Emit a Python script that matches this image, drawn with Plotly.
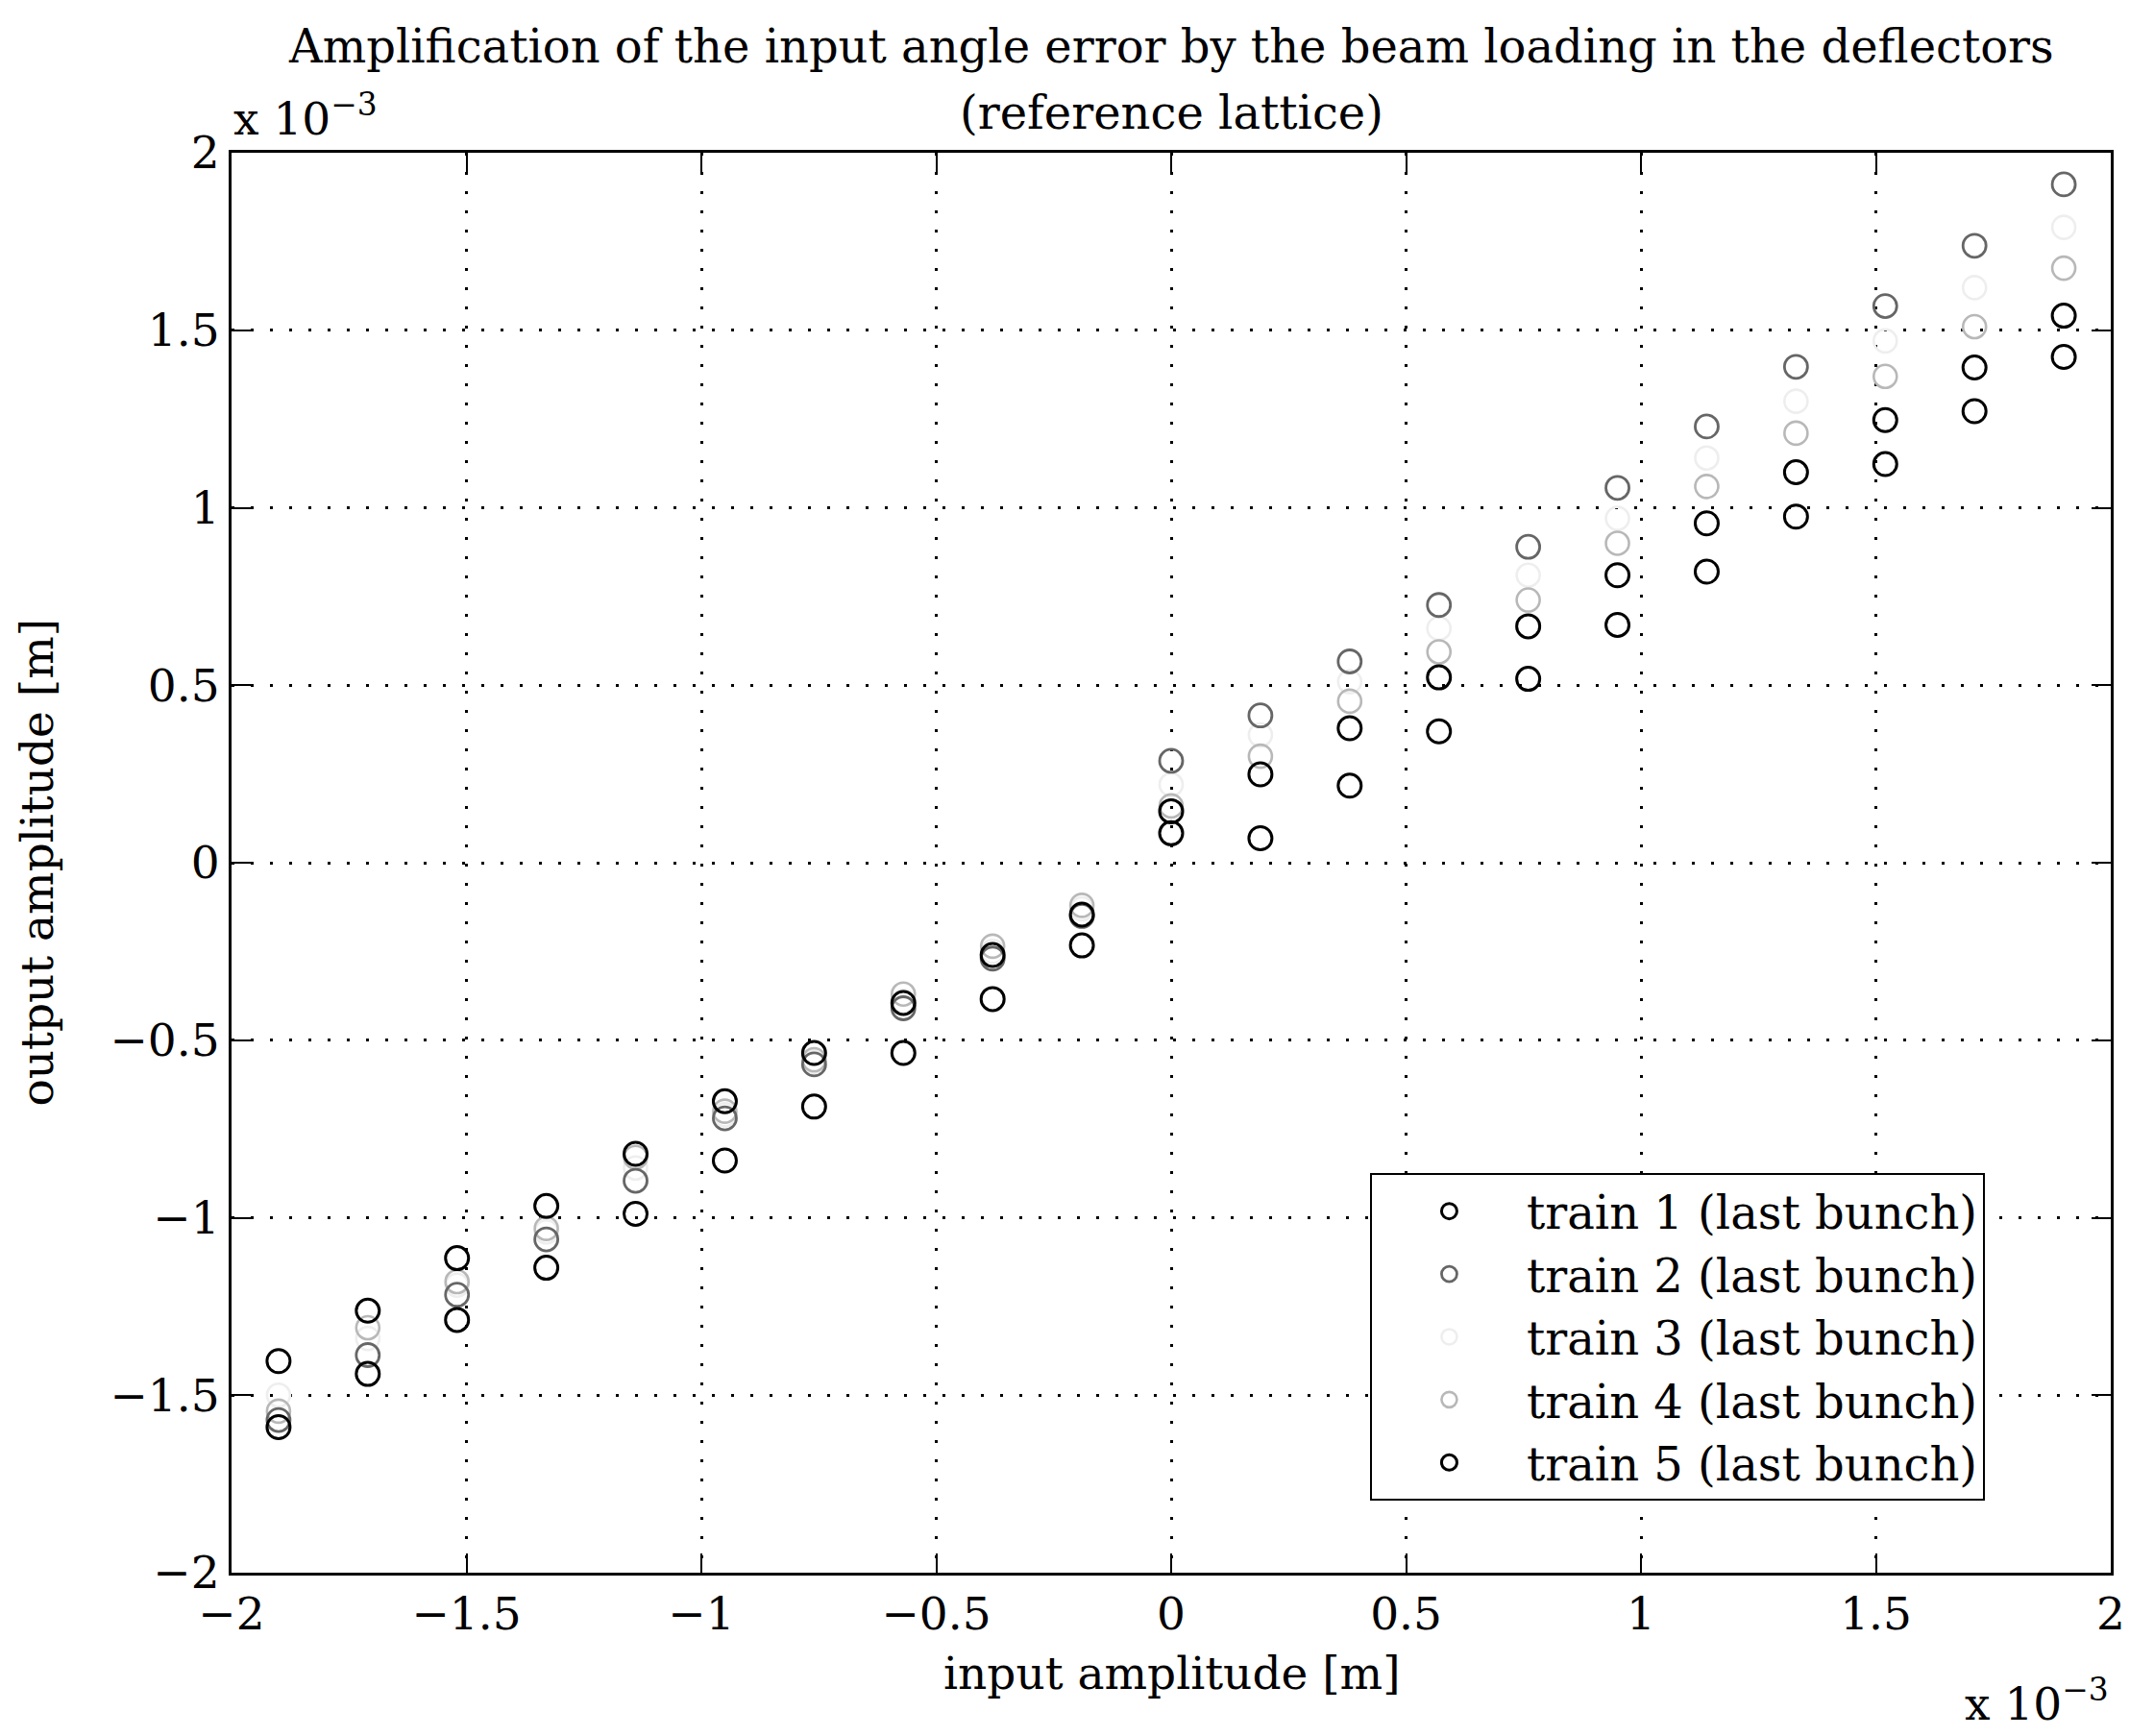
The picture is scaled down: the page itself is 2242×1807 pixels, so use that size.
import plotly.graph_objects as go

# ---- data (units of 1e-3 m) ----
input_amp = [-1.90, -1.71, -1.52, -1.33, -1.14, -0.95, -0.76, -0.57, -0.38, -0.19, 0.00,
             0.19, 0.38, 0.57, 0.76, 0.95, 1.14, 1.33, 1.52, 1.71, 1.90]

train1 = [-1.590, -1.440, -1.288, -1.141, -0.989, -0.839, -0.687, -0.536, -0.384, -0.233, 0.083,
          0.069, 0.217, 0.370, 0.518, 0.670, 0.820, 0.975, 1.123, 1.272, 1.425]
train2 = [-1.570, -1.387, -1.217, -1.061, -0.896, -0.720, -0.568, -0.410, -0.270, -0.150, 0.287,
          0.415, 0.567, 0.726, 0.890, 1.056, 1.229, 1.397, 1.568, 1.738, 1.911]
train3 = [-1.500, -1.340, -1.190, -1.040, -0.860, -0.710, -0.560, -0.390, -0.250, -0.130, 0.220,
          0.360, 0.510, 0.660, 0.810, 0.970, 1.140, 1.300, 1.470, 1.620, 1.790]
train4 = [-1.545, -1.310, -1.180, -1.030, -0.830, -0.700, -0.555, -0.370, -0.235, -0.120, 0.160,
          0.300, 0.455, 0.594, 0.740, 0.900, 1.060, 1.210, 1.370, 1.510, 1.675]
train5 = [-1.404, -1.262, -1.114, -0.967, -0.820, -0.672, -0.536, -0.395, -0.260, -0.146, 0.145,
          0.249, 0.379, 0.522, 0.666, 0.810, 0.956, 1.100, 1.247, 1.395, 1.541]

series_names = ["train 1 (last bunch)", "train 2 (last bunch)", "train 3 (last bunch)",
                "train 4 (last bunch)", "train 5 (last bunch)"]

tick_vals = [-2, -1.5, -1, -0.5, 0, 0.5, 1, 1.5, 2]
tick_text = ["\u22122", "\u22121.5", "\u22121", "\u22120.5", "0", "0.5", "1", "1.5", "2"]

title_line1 = "Amplification of the input angle error by the beam loading in the deflectors"
title_line2 = "(reference lattice)"
x_label = "input amplitude [m]"
y_label = "output amplitude [m]"

FONT = "DejaVu Serif"
FS = 47
FS_TITLE = 48

# draw order: faint ones first, solid black on top
styles = [
    (train3, series_names[2], "#eeeeee", 3, 2.6),
    (train4, series_names[3], "#b8b8b8", 4, 2.6),
    (train2, series_names[1], "#666666", 2, 2.8),
    (train1, series_names[0], "#000000", 1, 3.0),
    (train5, series_names[4], "#000000", 5, 3.0),
]

fig = go.Figure()
for ys, name, col, rank, lw in styles:
    fig.add_trace(go.Scatter(
        x=input_amp, y=ys, name=name, mode="markers", legendrank=rank,
        marker=dict(symbol="circle-open", size=24, color=col, line=dict(color=col, width=lw)),
    ))

axis_common = dict(
    tickvals=tick_vals, ticktext=tick_text, range=[-2, 2],
    showline=True, linecolor="black", linewidth=3, mirror="ticks",
    ticks="inside", ticklen=20, tickwidth=2, tickcolor="black",
    showgrid=True, gridcolor="black", gridwidth=2.5, griddash="3px,17px",
    zeroline=False, tickfont=dict(family=FONT, size=FS, color="black"),
)

fig.update_layout(
    width=2242, height=1807,
    paper_bgcolor="white", plot_bgcolor="white",
    margin=dict(l=233, r=53, t=151, b=178),
    xaxis=dict(**axis_common),
    yaxis=dict(**axis_common),
    font=dict(family=FONT, size=FS, color="black"),
    showlegend=True,
    legend=dict(
        x=0.6058, y=0.2815, xanchor="left", yanchor="top",
        bgcolor="white", bordercolor="black", borderwidth=2,
        font=dict(family=FONT, size=48, color="black"),
        itemwidth=151, tracegroupgap=0,
    ),
    annotations=[
        dict(text=title_line1, x=0.5, y=1.075, xref="paper", yref="paper",
             xanchor="center", yanchor="middle", showarrow=False,
             font=dict(family=FONT, size=FS_TITLE, color="black")),
        dict(text=title_line2, x=0.5, y=1.0285, xref="paper", yref="paper",
             xanchor="center", yanchor="middle", showarrow=False,
             font=dict(family=FONT, size=FS_TITLE, color="black")),
        dict(text="x 10<sup>\u22123</sup>", x=0.0, y=1.004, xref="paper", yref="paper",
             xanchor="left", yanchor="bottom", showarrow=False,
             font=dict(family=FONT, size=FS, color="black")),
        dict(text="x 10<sup>\u22123</sup>", x=1.0, y=-0.112, xref="paper", yref="paper",
             xanchor="right", yanchor="bottom", showarrow=False,
             font=dict(family=FONT, size=FS, color="black")),
        dict(text=x_label, x=0.5, y=-0.071, xref="paper", yref="paper",
             xanchor="center", yanchor="middle", showarrow=False,
             font=dict(family=FONT, size=FS, color="black")),
        dict(text=y_label, x=-0.104, y=0.5, xref="paper", yref="paper",
             xanchor="center", yanchor="middle", showarrow=False, textangle=-90,
             font=dict(family=FONT, size=FS, color="black")),
    ],
)

fig.write_html("out.html")
